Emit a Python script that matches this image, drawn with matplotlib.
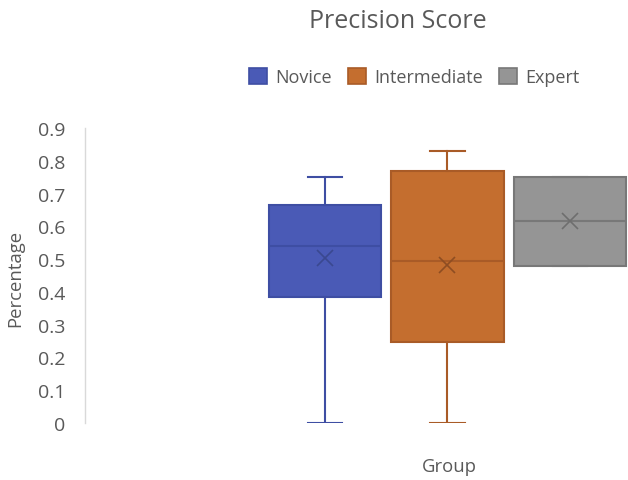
import matplotlib
matplotlib.use("Agg")
import matplotlib.pyplot as plt
from matplotlib.patches import Patch

plt.rcParams['font.family'] = ['Open Sans', 'DejaVu Sans']

groups = ["Novice", "Intermediate", "Expert"]
whislo = [0.0, 0.0, 0.479]
q1 = [0.384, 0.247, 0.479]
med = [0.54, 0.494, 0.616]
q3 = [0.665, 0.768, 0.75]
whishi = [0.75, 0.829, 0.75]
means = [0.503, 0.482, 0.616]
yticks = [0, 0.1, 0.2, 0.3, 0.4, 0.5, 0.6, 0.7, 0.8, 0.9]
ytick_labels = ["0", "0.1", "0.2", "0.3", "0.4", "0.5", "0.6", "0.7", "0.8", "0.9"]

fills = ["#4a5ab6", "#c46e2f", "#959595"]
edges = ["#3e4ea3", "#a95b27", "#787878"]
marks = ["#3a4890", "#8e4d22", "#6e6e6e"]

fig = plt.figure(figsize=(6.28, 4.81), dpi=100)
W, H = 628, 481
ax = fig.add_axes([85 / W, 1 - 424 / H, (628 - 85) / W, (424 - 129) / H])

for i in range(3):
    st = dict(whislo=whislo[i], q1=q1[i], med=med[i], q3=q3[i],
              whishi=whishi[i], mean=means[i], fliers=[], label=groups[i])
    ax.bxp([st], positions=[i], widths=0.918, capwidths=0.28,
           patch_artist=True, showmeans=True, showcaps=True,
           boxprops=dict(facecolor=fills[i], edgecolor=edges[i], linewidth=1.5),
           medianprops=dict(color=edges[i], linewidth=1.5),
           whiskerprops=dict(color=edges[i], linewidth=1.5),
           capprops=dict(color=edges[i], linewidth=1.5),
           meanprops=dict(marker='x', markeredgecolor=marks[i], markersize=11,
                          markeredgewidth=1.2, linestyle='none'),
           manage_ticks=False)

ax.set_xlim(-1.96, 2.475)
ax.set_ylim(0, 0.9)
ax.set_yticks(yticks)
ax.set_yticklabels(ytick_labels, fontsize=14, color="#595959")
ax.set_xticks([])
ax.tick_params(axis='y', length=0, pad=14)
for s in ["top", "right", "bottom"]:
    ax.spines[s].set_visible(False)
ax.spines["left"].set_color("#d9d9d9")
ax.spines["left"].set_linewidth(1.0)

fig.text(15 / W, 1 - 278 / H, "Percentage", rotation=90, ha='center', va='center',
         fontsize=13.3, color="#595959")
fig.text(449 / W, 1 - 467 / H, "Group", ha='center', va='center',
         fontsize=13.3, color="#595959")
fig.text(398 / W, 1 - 22 / H, "Precision Score", ha='center', va='center',
         fontsize=18, color="#595959")

handles = [Patch(facecolor=fills[i], edgecolor=edges[i], linewidth=1.2, label=groups[i])
           for i in range(3)]
fig.legend(handles=handles, loc='center', bbox_to_anchor=(414 / W, 1 - 78 / H),
           ncol=3, frameon=False, fontsize=13, handlelength=1.0, handleheight=1.0,
           handletextpad=0.45, columnspacing=0.9, labelcolor="#595959")

fig.savefig("out.png", dpi=100)
